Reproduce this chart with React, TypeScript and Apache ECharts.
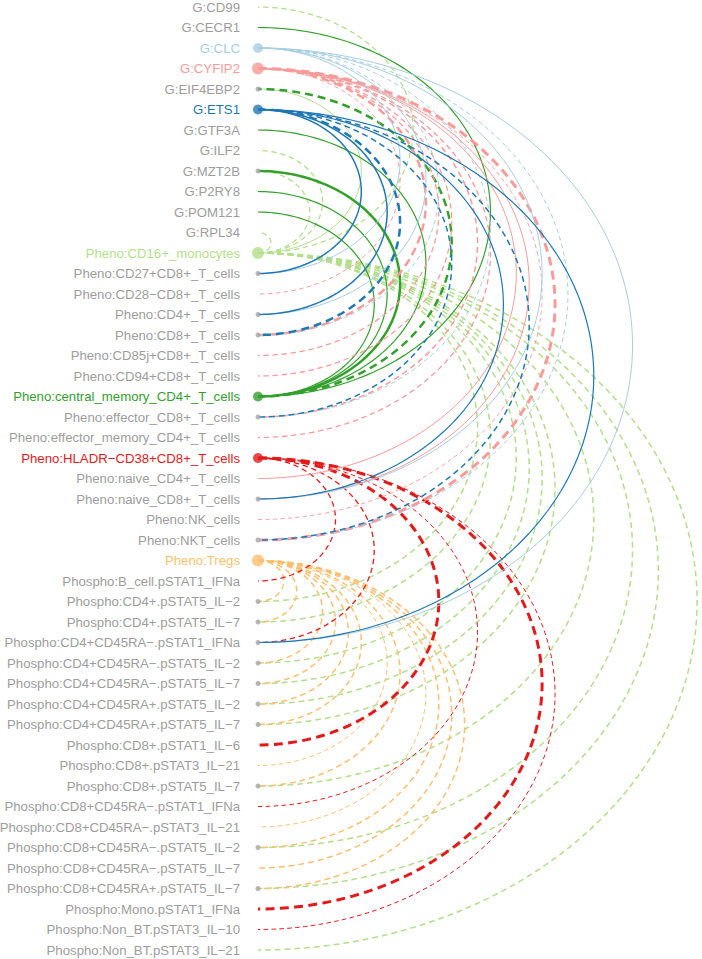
import React, { useEffect, useRef } from "react";
import * as echarts from "echarts";

// ---- nodes (top to bottom) ----
const NODES = [
  "G:CD99",
  "G:CECR1",
  "G:CLC",
  "G:CYFIP2",
  "G:EIF4EBP2",
  "G:ETS1",
  "G:GTF3A",
  "G:ILF2",
  "G:MZT2B",
  "G:P2RY8",
  "G:POM121",
  "G:RPL34",
  "Pheno:CD16+_monocytes",
  "Pheno:CD27+CD8+_T_cells",
  "Pheno:CD28\u2212CD8+_T_cells",
  "Pheno:CD4+_T_cells",
  "Pheno:CD8+_T_cells",
  "Pheno:CD85j+CD8+_T_cells",
  "Pheno:CD94+CD8+_T_cells",
  "Pheno:central_memory_CD4+_T_cells",
  "Pheno:effector_CD8+_T_cells",
  "Pheno:effector_memory_CD4+_T_cells",
  "Pheno:HLADR\u2212CD38+CD8+_T_cells",
  "Pheno:naive_CD4+_T_cells",
  "Pheno:naive_CD8+_T_cells",
  "Pheno:NK_cells",
  "Pheno:NKT_cells",
  "Pheno:Tregs",
  "Phospho:B_cell.pSTAT1_IFNa",
  "Phospho:CD4+.pSTAT5_IL\u22122",
  "Phospho:CD4+.pSTAT5_IL\u22127",
  "Phospho:CD4+CD45RA\u2212.pSTAT1_IFNa",
  "Phospho:CD4+CD45RA\u2212.pSTAT5_IL\u22122",
  "Phospho:CD4+CD45RA\u2212.pSTAT5_IL\u22127",
  "Phospho:CD4+CD45RA+.pSTAT5_IL\u22122",
  "Phospho:CD4+CD45RA+.pSTAT5_IL\u22127",
  "Phospho:CD8+.pSTAT1_IL\u22126",
  "Phospho:CD8+.pSTAT3_IL\u221221",
  "Phospho:CD8+.pSTAT5_IL\u22127",
  "Phospho:CD8+CD45RA\u2212.pSTAT1_IFNa",
  "Phospho:CD8+CD45RA\u2212.pSTAT3_IL\u221221",
  "Phospho:CD8+CD45RA\u2212.pSTAT5_IL\u22122",
  "Phospho:CD8+CD45RA\u2212.pSTAT5_IL\u22127",
  "Phospho:CD8+CD45RA+.pSTAT5_IL\u22127",
  "Phospho:Mono.pSTAT1_IFNa",
  "Phospho:Non_BT.pSTAT3_IL\u221210",
  "Phospho:Non_BT.pSTAT3_IL\u221221",
];

// ---- hubs ----
const HUBS = [
  "G:CLC",
  "G:CYFIP2",
  "G:ETS1",
  "Pheno:CD16+_monocytes",
  "Pheno:central_memory_CD4+_T_cells",
  "Pheno:HLADR\u2212CD38+CD8+_T_cells",
  "Pheno:Tregs",
];
const HUB_COLORS = ["#a6cee3", "#fb9a99", "#1f78b4", "#b2df8a", "#33a02c", "#e31a1c", "#fdbf6f"];
const HUB_DOT_SIZES = [10, 12, 10, 12, 10, 10, 12];

// ---- edges per hub: [target, width, dashed(1) / solid(0)] ----
const CD16_EDGES: [string, number, number][] = [
  ["G:CD99", 1.3, 1],
  ["G:EIF4EBP2", 1, 0],
  ["G:ILF2", 1.3, 1],
  ["G:MZT2B", 1.3, 1],
  ["G:RPL34", 1.3, 1],
  ["Phospho:CD4+.pSTAT5_IL\u22122", 1.5, 1],
  ["Phospho:CD4+.pSTAT5_IL\u22127", 1.5, 1],
  ["Phospho:CD4+CD45RA\u2212.pSTAT5_IL\u22122", 1.5, 1],
  ["Phospho:CD4+CD45RA\u2212.pSTAT5_IL\u22127", 1.5, 1],
  ["Phospho:CD4+CD45RA+.pSTAT5_IL\u22122", 1.5, 1],
  ["Phospho:CD4+CD45RA+.pSTAT5_IL\u22127", 1.5, 1],
  ["Phospho:CD8+.pSTAT5_IL\u22127", 1.5, 1],
  ["Phospho:CD8+CD45RA\u2212.pSTAT5_IL\u22122", 1.5, 1],
  ["Phospho:CD8+CD45RA+.pSTAT5_IL\u22127", 1.5, 1],
  ["Phospho:Non_BT.pSTAT3_IL\u221221", 1.5, 1],
];
const CM_EDGES: [string, number, number][] = [
  ["G:CECR1", 1.2, 0],
  ["G:EIF4EBP2", 2.5, 1],
  ["G:GTF3A", 1.2, 0],
  ["G:MZT2B", 2.5, 0],
  ["G:P2RY8", 1.2, 0],
  ["G:POM121", 1.2, 0],
];
const CLC_EDGES: [string, number, number][] = [
  ["Pheno:CD27+CD8+_T_cells", 1, 0],
  ["Pheno:CD4+_T_cells", 1, 0],
  ["Pheno:CD8+_T_cells", 1, 1],
  ["Pheno:effector_CD8+_T_cells", 1, 1],
  ["Pheno:naive_CD8+_T_cells", 1, 0],
  ["Pheno:NKT_cells", 1, 1],
  ["Phospho:CD4+CD45RA\u2212.pSTAT1_IFNa", 1, 0],
];
const CYFIP2_EDGES: [string, number, number][] = [
  ["Pheno:CD28\u2212CD8+_T_cells", 1, 1],
  ["Pheno:CD8+_T_cells", 2.5, 1],
  ["Pheno:CD85j+CD8+_T_cells", 1.3, 1],
  ["Pheno:CD94+CD8+_T_cells", 1.3, 1],
  ["Pheno:effector_CD8+_T_cells", 1.5, 1],
  ["Pheno:effector_memory_CD4+_T_cells", 1.3, 1],
  ["Pheno:naive_CD4+_T_cells", 1, 0],
  ["Pheno:naive_CD8+_T_cells", 1, 0],
  ["Pheno:NK_cells", 0.9, 1],
  ["Pheno:NKT_cells", 3, 1],
];
const ETS1_EDGES: [string, number, number][] = [
  ["Pheno:CD27+CD8+_T_cells", 1.5, 0],
  ["Pheno:CD4+_T_cells", 1.5, 0],
  ["Pheno:CD8+_T_cells", 2.5, 1],
  ["Pheno:effector_CD8+_T_cells", 1.5, 1],
  ["Pheno:naive_CD8+_T_cells", 1.2, 0],
  ["Pheno:NKT_cells", 1.5, 1],
  ["Phospho:CD4+CD45RA\u2212.pSTAT1_IFNa", 1.2, 0],
];
const HLADR_EDGES: [string, number, number][] = [
  ["Phospho:B_cell.pSTAT1_IFNa", 1.3, 1],
  ["Phospho:CD4+CD45RA\u2212.pSTAT1_IFNa", 1.3, 1],
  ["Phospho:CD8+.pSTAT1_IL\u22126", 3, 1],
  ["Phospho:CD8+CD45RA\u2212.pSTAT1_IFNa", 1, 1],
  ["Phospho:Mono.pSTAT1_IFNa", 3, 1],
  ["Phospho:Non_BT.pSTAT3_IL\u221210", 1, 1],
];
const TREGS_EDGES: [string, number, number][] = [
  ["Phospho:CD4+.pSTAT5_IL\u22122", 1.5, 1],
  ["Phospho:CD4+.pSTAT5_IL\u22127", 1.5, 1],
  ["Phospho:CD4+CD45RA\u2212.pSTAT5_IL\u22122", 1.5, 1],
  ["Phospho:CD4+CD45RA\u2212.pSTAT5_IL\u22127", 1.5, 1],
  ["Phospho:CD4+CD45RA+.pSTAT5_IL\u22122", 1.5, 1],
  ["Phospho:CD4+CD45RA+.pSTAT5_IL\u22127", 1.5, 1],
  ["Phospho:CD8+.pSTAT3_IL\u221221", 1, 1],
  ["Phospho:CD8+.pSTAT5_IL\u22127", 1.5, 1],
  ["Phospho:CD8+CD45RA\u2212.pSTAT3_IL\u221221", 1, 1],
  ["Phospho:CD8+CD45RA\u2212.pSTAT5_IL\u22122", 1.5, 1],
  ["Phospho:CD8+CD45RA\u2212.pSTAT5_IL\u22127", 1.5, 1],
  ["Phospho:CD8+CD45RA+.pSTAT5_IL\u22127", 1.5, 1],
];

// drawing order of the hub groups
const EDGE_GROUPS: Record<string, [string, number, number][]> = {
  "Pheno:CD16+_monocytes": CD16_EDGES,
  "Pheno:Tregs": TREGS_EDGES,
  "Pheno:HLADR\u2212CD38+CD8+_T_cells": HLADR_EDGES,
  "Pheno:central_memory_CD4+_T_cells": CM_EDGES,
  "G:CYFIP2": CYFIP2_EDGES,
  "G:CLC": CLC_EDGES,
  "G:ETS1": ETS1_EDGES,
};

const LABEL_GREY = "#9d9d9d";
const DOT_GREY = "#a4a4a4";

export default function App() {
  const ref = useRef<HTMLDivElement>(null);

  useEffect(() => {
    if (!ref.current) return;
    const chart = echarts.init(ref.current, null, { renderer: "svg" });

    const W = 702;
    const H = 959;
    const LEFT = 258;
    const TOP = 7;
    const BOTTOM = 9;
    const rowPx = (H - TOP - BOTTOM) / (NODES.length - 1);
    const xMax = (W - LEFT) / rowPx;
    const ASPECT = 1.26;

    const idx = (n: string) => NODES.indexOf(n);
    const edgeData: number[][] = [];
    Object.keys(EDGE_GROUPS).forEach((hub) => {
      const h = HUBS.indexOf(hub);
      EDGE_GROUPS[hub].forEach(([t, w, d]) => {
        const ti = idx(t);
        if (ti >= 0) edgeData.push([idx(hub), ti, w, d, h]);
      });
    });

    const degree = NODES.map(() => 0);
    edgeData.forEach((e) => {
      degree[e[0]]++;
      degree[e[1]]++;
    });

    const dotData: any[] = [];
    NODES.forEach((n, i) => {
      const h = HUBS.indexOf(n);
      if (h >= 0) {
        dotData.push({ value: [0, i], symbolSize: HUB_DOT_SIZES[h], itemStyle: { color: HUB_COLORS[h] } });
      } else if (degree[i] >= 2) {
        dotData.push({ value: [0, i], symbolSize: 5, itemStyle: { color: DOT_GREY } });
      }
    });

    const labelColor = (v: any) => {
      const h = HUBS.indexOf(NODES[Number(v)]);
      return h >= 0 ? HUB_COLORS[h] : LABEL_GREY;
    };

    chart.setOption({
      animation: false,
      backgroundColor: "#ffffff",
      grid: {
        left: LEFT,
        right: 0,
        top: TOP,
        bottom: BOTTOM,
        containLabel: false,
        outerBoundsMode: "none",
      },
      xAxis: {
        type: "value",
        min: 0,
        max: xMax,
        show: false,
      },
      yAxis: {
        type: "value",
        min: 0,
        max: NODES.length - 1,
        interval: 1,
        inverse: true,
        axisLine: { show: false },
        axisTick: { show: false },
        splitLine: { show: false },
        axisLabel: {
          margin: 18,
          fontSize: 13.2,
          fontFamily: "'Liberation Sans', Arial, Helvetica, sans-serif",
          formatter: (v: number) => NODES[v] ?? "",
          color: labelColor,
          hideOverlap: false,
        },
      },
      series: [
        {
          type: "custom",
          coordinateSystem: "cartesian2d",
          silent: true,
          clip: false,
          data: edgeData,
          encode: { x: -1, y: -1 },
          renderItem: (params: any, api: any) => {
            const s = api.value(0);
            const t = api.value(1);
            const w = api.value(2);
            const dashed = api.value(3);
            const hub = api.value(4);
            const m = (s + t) / 2;
            const hh = Math.abs(t - s) / 2;
            const a = ASPECT * hh;
            const dir = t > s ? 1 : -1;
            const pts: number[][] = [];
            const N = 120;
            for (let k = 0; k <= N; k++) {
              const th = -Math.PI / 2 + (Math.PI * k) / N;
              const x = a * Math.cos(th);
              const y = m + dir * hh * Math.sin(th);
              pts.push(api.coord([x, y]));
            }
            return {
              type: "polyline",
              shape: { points: pts },
              style: {
                stroke: HUB_COLORS[hub],
                lineWidth: w,
                fill: null,
                lineDash: dashed ? [4.6 * Math.pow(w, 0.6), 3.3 * Math.pow(w, 0.45)] : null,
                lineCap: "butt",
              },
            };
          },
          z: 2,
        },
        {
          type: "scatter",
          silent: true,
          symbol: "circle",
          data: dotData,
          z: 5,
        },
      ],
    });

    return () => {
      chart.dispose();
    };
  }, []);

  return (
    <div
      ref={ref}
      style={{ position: "fixed", left: 0, top: 0, width: 702, height: 959, background: "#fff" }}
    />
  );
}
